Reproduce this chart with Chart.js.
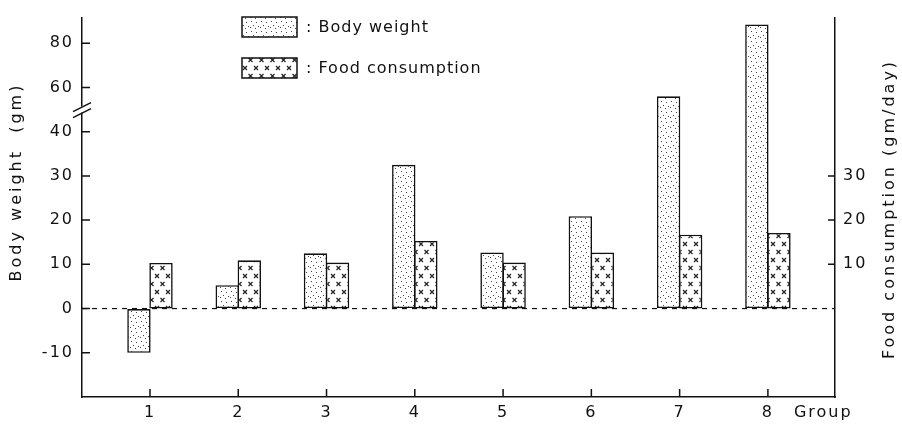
<!DOCTYPE html>
<html>
<head>
<meta charset="utf-8">
<title>Body weight and food consumption by group</title>
<script src="https://cdn.jsdelivr.net/npm/chart.js@4/dist/chart.umd.min.js"></script>
<style>
  html, body { margin: 0; padding: 0; background: #fff; }
  canvas { display: block; }
</style>
</head>
<body>
<canvas id="groupChart" width="902" height="424"></canvas>
<script>
// Values
const groups = [1, 2, 3, 4, 5, 6, 7, 8];
const groupLabels = ["1", "2", "3", "4", "5", "6", "7", "8"];
const bodyWeight = [-10, 5.3, 12.5, 32.5, 12.7, 20.9, 56, 88.5];          // gm
const foodConsumption = [10.3, 10.9, 10.4, 15.3, 10.4, 12.7, 16.7, 17.1]; // gm/day
const bodyTicks = [-10, 0, 10, 20, 30, 40, 60, 80];
const foodTicks = [10, 20, 30];

// Left axis is broken above 40 gm, values past the break are drawn at half scale
const BREAK = 40;
const SQUEEZE = 0.5;
function toAxis(v) {
    return v > BREAK ? BREAK + (v - BREAK) * SQUEEZE : v;
}
const Y_MIN = -20;
const Y_MAX = toAxis(91.6);

const FONT = '"DejaVu Sans", sans-serif';
const INK = "#111";

// Fill textures for the two kinds of bar
function stipplePattern() {
    const c = document.createElement("canvas");
    c.width = 10; c.height = 10;
    const g = c.getContext("2d");
    g.fillStyle = "#fff";
    g.fillRect(0, 0, 10, 10);
    g.fillStyle = "#444";
    [[1, 1], [6, 2], [3, 5], [8, 6], [5, 8], [0, 7]].forEach(([x, y]) => g.fillRect(x, y, 1, 1));
    return g.createPattern(c, "repeat");
}

function crossPattern() {
    const c = document.createElement("canvas");
    c.width = 11; c.height = 16;
    const g = c.getContext("2d");
    g.fillStyle = "#fff";
    g.fillRect(0, 0, 11, 16);
    g.strokeStyle = "#222";
    g.lineWidth = 1.2;
    [[3, 4], [8.5, 12]].forEach(([x, y]) => {
        g.beginPath();
        g.moveTo(x - 2, y - 2); g.lineTo(x + 2, y + 2);
        g.moveTo(x + 2, y - 2); g.lineTo(x - 2, y + 2);
        g.stroke();
    });
    return g.createPattern(c, "repeat");
}

// White paper and wider lettering for everything drawn on the canvas
const paperPlugin = {
    id: "paper",
    beforeDraw(chart) {
        const ctx = chart.ctx;
        ctx.save();
        ctx.fillStyle = "#fff";
        ctx.fillRect(0, 0, chart.width, chart.height);
        ctx.restore();
        ctx.letterSpacing = "2px";
    }
};

// Dashed zero line behind the bars
const zeroLinePlugin = {
    id: "zeroLine",
    beforeDatasetsDraw(chart) {
        const { ctx, chartArea, scales } = chart;
        const y = scales.y.getPixelForValue(0);
        ctx.save();
        ctx.strokeStyle = INK;
        ctx.lineWidth = 1.2;
        ctx.setLineDash([5, 5]);
        ctx.beginPath();
        ctx.moveTo(chartArea.left, y);
        ctx.lineTo(chartArea.right, y);
        ctx.stroke();
        ctx.restore();
    }
};

// Inward tick marks, axis break, axis titles, "Group" and the boxed legend
const decorPlugin = {
    id: "decor",
    afterDraw(chart) {
        const { ctx, chartArea, scales } = chart;
        ctx.save();
        ctx.strokeStyle = INK;
        ctx.lineWidth = 1.5;
        ctx.beginPath();
        scales.y.ticks.forEach(t => {
            const y = scales.y.getPixelForValue(t.value);
            ctx.moveTo(chartArea.left, y); ctx.lineTo(chartArea.left + 8, y);
        });
        scales.y2.ticks.forEach(t => {
            const y = scales.y2.getPixelForValue(t.value);
            ctx.moveTo(chartArea.right - 7, y); ctx.lineTo(chartArea.right, y);
        });
        scales.x.ticks.forEach(t => {
            const x = scales.x.getPixelForValue(t.value);
            ctx.moveTo(x, chartArea.bottom); ctx.lineTo(x, chartArea.bottom - 8);
        });
        ctx.stroke();

        // "//" break mark on the left axis
        const by = scales.y.getPixelForValue(toAxis(50));
        const bx = chartArea.left;
        ctx.fillStyle = "#fff";
        ctx.fillRect(bx - 2, by - 3, 4, 6);
        ctx.beginPath();
        ctx.moveTo(bx - 9, by + 2); ctx.lineTo(bx + 9, by - 7);
        ctx.moveTo(bx - 9, by + 8); ctx.lineTo(bx + 9, by - 1);
        ctx.stroke();

        // axis titles, both read bottom to top
        ctx.fillStyle = INK;
        ctx.font = `16px ${FONT}`;
        ctx.textAlign = "center";
        ctx.textBaseline = "middle";
        ctx.letterSpacing = "3px";
        [["Body weight  (gm)", 17, 182], ["Food consumption (gm/day)", 890, 209]].forEach(([txt, x, y]) => {
            ctx.save();
            ctx.translate(x, y);
            ctx.rotate(-Math.PI / 2);
            ctx.fillText(txt, 0, 0);
            ctx.restore();
        });

        ctx.letterSpacing = "2px";
        ctx.textAlign = "left";
        ctx.fillText("Group", scales.x.getPixelForValue(8) + 26, chartArea.bottom + 16);

        // legend
        ctx.letterSpacing = "1px";
        chart.data.datasets.forEach((ds, i) => {
            const x = 242, y = 17 + i * 41, w = 55, h = 20;
            ctx.fillStyle = ds.backgroundColor;
            ctx.fillRect(x, y, w, h);
            ctx.strokeRect(x, y, w, h);
            ctx.fillStyle = INK;
            ctx.fillText(": " + ds.label, x + w + 9, y + h / 2 + 1);
        });
        ctx.restore();
    }
};

const ctx = document.getElementById("groupChart").getContext("2d");

new Chart(ctx, {
    type: "bar",
    data: {
        datasets: [
            {
                label: "Body weight",
                data: groups.map((g, i) => ({ x: g, y: toAxis(bodyWeight[i]) })),
                yAxisID: "y",
                backgroundColor: stipplePattern(),
                borderColor: INK,
                borderWidth: 1.6,
                borderSkipped: false,
                categoryPercentage: 0.5,
                barPercentage: 1.06
            },
            {
                label: "Food consumption",
                data: groups.map((g, i) => ({ x: g, y: foodConsumption[i] })),
                yAxisID: "y2",
                backgroundColor: crossPattern(),
                borderColor: INK,
                borderWidth: 1.6,
                borderSkipped: false,
                categoryPercentage: 0.5,
                barPercentage: 1.06
            }
        ]
    },
    options: {
        responsive: false,
        animation: false,
        devicePixelRatio: 1,
        layout: { padding: { top: 12, left: 0, right: 0, bottom: 0 } },
        plugins: {
            legend: { display: false },
            tooltip: { enabled: false }
        },
        scales: {
            x: {
                type: "linear",
                offset: false,
                min: 0.23,
                max: 8.76,
                afterBuildTicks: (scale) => { scale.ticks = groups.map(v => ({ value: v })); },
                afterFit: (scale) => { scale.height = 27; },
                ticks: {
                    callback: (value, index) => groupLabels[index],
                    color: INK,
                    padding: 6,
                    font: { family: FONT, size: 16 }
                },
                grid: { drawOnChartArea: false, drawTicks: false, offset: false },
                border: { color: INK, width: 1.5 }
            },
            y: {
                position: "left",
                min: Y_MIN,
                max: Y_MAX,
                afterBuildTicks: (scale) => { scale.ticks = bodyTicks.map(v => ({ value: toAxis(v) })); },
                afterFit: (scale) => { scale.width = 82; },
                ticks: {
                    callback: (value, index) => String(bodyTicks[index]),
                    color: INK,
                    padding: 8,
                    font: { family: FONT, size: 16 }
                },
                grid: { drawOnChartArea: false, drawTicks: false },
                border: { color: INK, width: 1.5 }
            },
            y2: {
                position: "right",
                min: Y_MIN,
                max: Y_MAX,
                afterBuildTicks: (scale) => { scale.ticks = foodTicks.map(v => ({ value: v })); },
                afterFit: (scale) => { scale.width = 67; },
                ticks: {
                    callback: (value, index) => String(foodTicks[index]),
                    color: INK,
                    padding: 8,
                    font: { family: FONT, size: 16 }
                },
                grid: { drawOnChartArea: false, drawTicks: false },
                border: { color: INK, width: 1.5 }
            }
        }
    },
    plugins: [paperPlugin, zeroLinePlugin, decorPlugin]
});
</script>
</body>
</html>
